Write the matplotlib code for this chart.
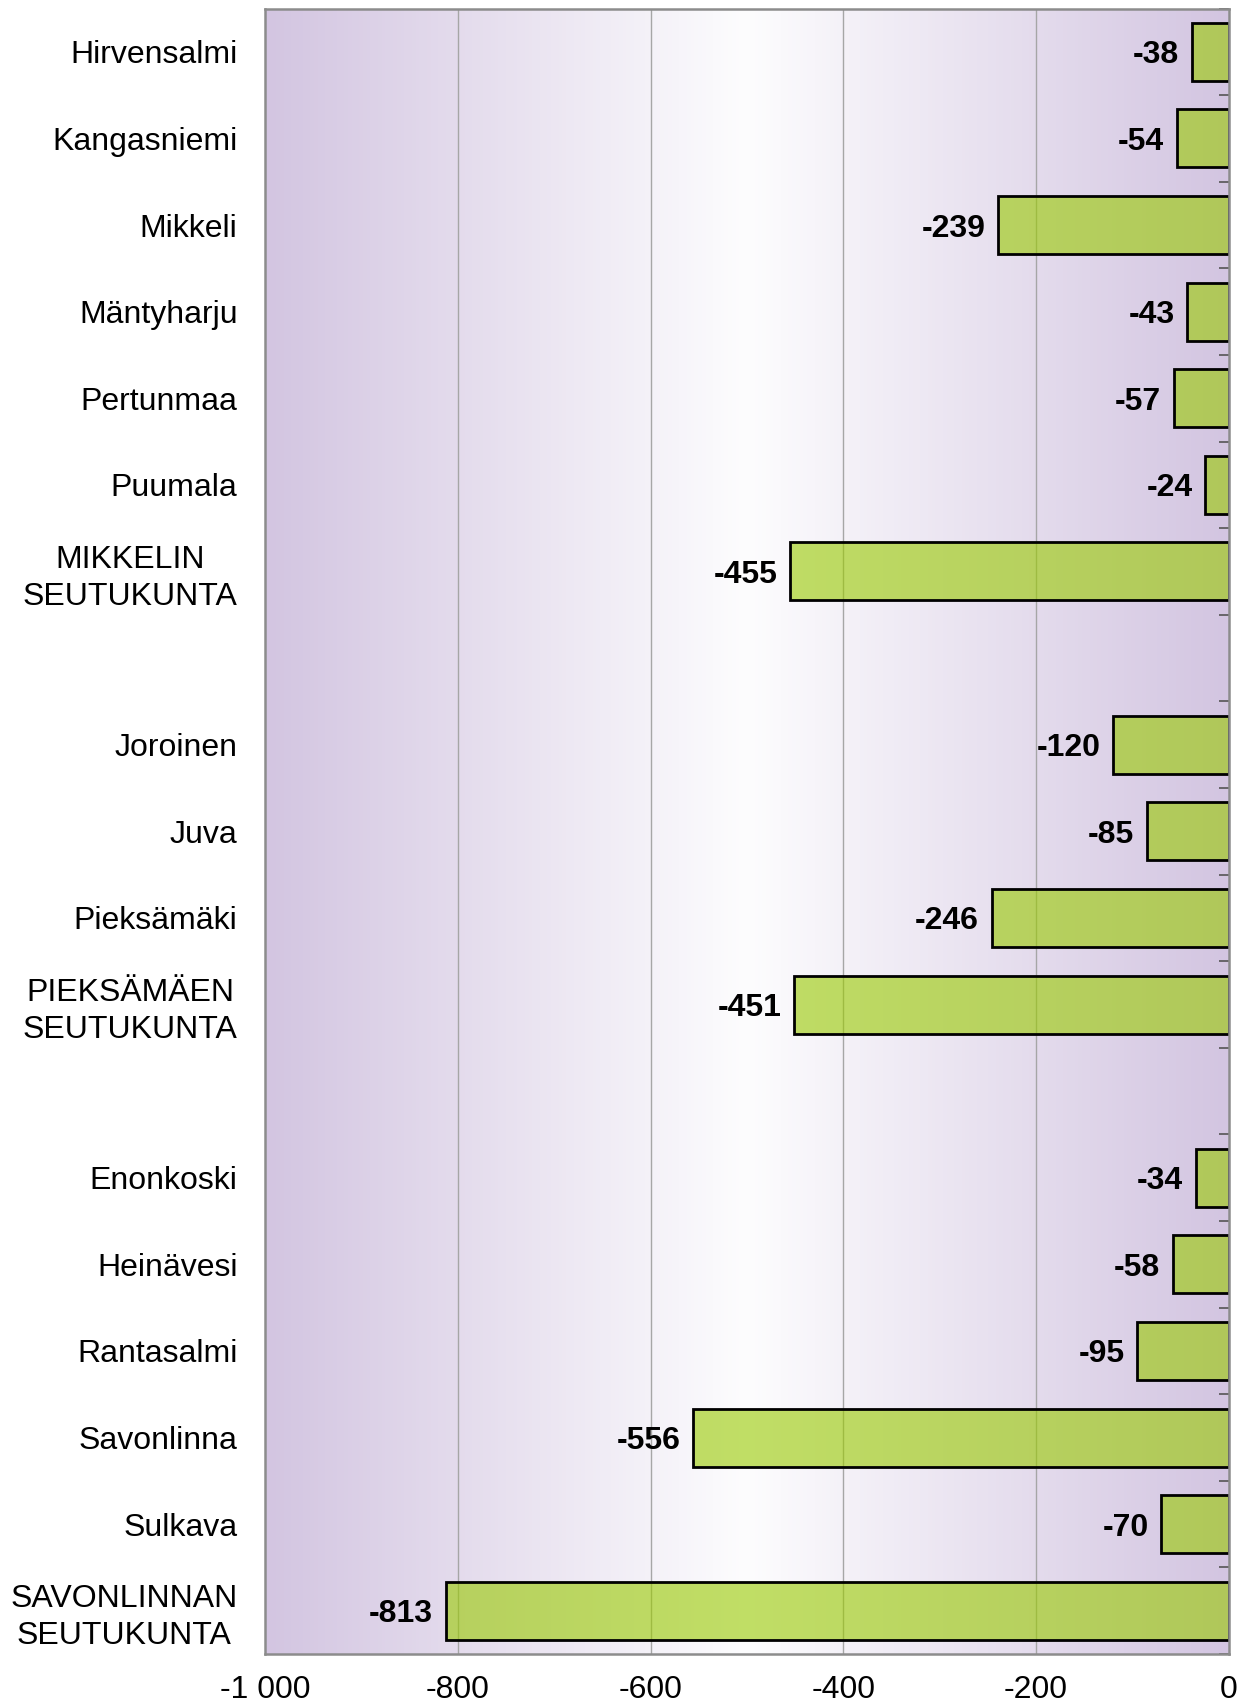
import numpy as np
import matplotlib
matplotlib.use("Agg")
from matplotlib import pyplot as plt
from matplotlib.colors import LinearSegmentedColormap, to_rgba

plt.rcParams['font.family'] = ['Liberation Sans', 'DejaVu Sans']

municipalities = ['Hirvensalmi', 'Kangasniemi', 'Mikkeli', 'Mäntyharju', 'Pertunmaa',
                  'Puumala', 'MIKKELIN\nSEUTUKUNTA', '',
                  'Joroinen', 'Juva', 'Pieksämäki', 'PIEKSÄMÄEN\nSEUTUKUNTA', '',
                  'Enonkoski', 'Heinävesi', 'Rantasalmi', 'Savonlinna', 'Sulkava',
                  'SAVONLINNAN\nSEUTUKUNTA']
change = [-38, -54, -239, -43, -57, -24, -455, None,
          -120, -85, -246, -451, None,
          -34, -58, -95, -556, -70, -813]
xticks = [-1000, -800, -600, -400, -200, 0]
xtick_labels = ['-1 000', '-800', '-600', '-400', '-200', '0']

fig = plt.figure(figsize=(12.46, 17.07), dpi=100)
ax = fig.add_axes([0.213, 0.031, 0.773, 0.964])

n = len(municipalities)
ypos = np.arange(n)
bh = 0.67

# background: purple - white - purple
bg = LinearSegmentedColormap.from_list('bg', ['#d3c5e1', '#fdfdfe', '#d3c5e1'])
ax.imshow(np.linspace(0, 1, 256).reshape(1, -1), cmap=bg, aspect='auto',
          extent=(-1000, 0, n - 0.5, -0.5), zorder=0)

for x in xticks[1:-1]:
    ax.axvline(x, color='#a6a6a6', lw=1, zorder=1)

# semi-transparent green bars, the background shows through
bar_fc = to_rgba('#99ca00', 0.6)
for y, v in zip(ypos, change):
    if v is None:
        continue
    ax.barh(y, v, height=bh, facecolor=bar_fc, edgecolor='black', lw=2, zorder=3)
    ax.annotate(str(v), (v, y), xytext=(-9, 0), textcoords='offset points',
                ha='right', va='center_baseline', fontsize=23, fontweight='bold', zorder=4)

ax.set_xlim(-1000, 0)
ax.set_ylim(n - 0.5, -0.5)

ax.set_xticks(xticks)
ax.set_xticklabels(xtick_labels, fontsize=23)
ax.tick_params(axis='x', length=0, pad=15)

ax.set_yticks(ypos)
ax.set_yticklabels(municipalities, fontsize=23, multialignment='center', linespacing=1.3)
ax.set_yticks(np.arange(n + 1) - 0.5, minor=True)
ax.tick_params(axis='y', which='major', length=0, pad=20)
ax.tick_params(axis='y', which='minor', left=False, right=True, direction='in',
               length=7, width=1.2, color='#555555')

for side in ['left', 'right', 'bottom', 'top']:
    ax.spines[side].set_color('#8c8c8c')
    ax.spines[side].set_linewidth(1.8)
    ax.spines[side].set_zorder(5)

fig.savefig('out.png', dpi=100)
